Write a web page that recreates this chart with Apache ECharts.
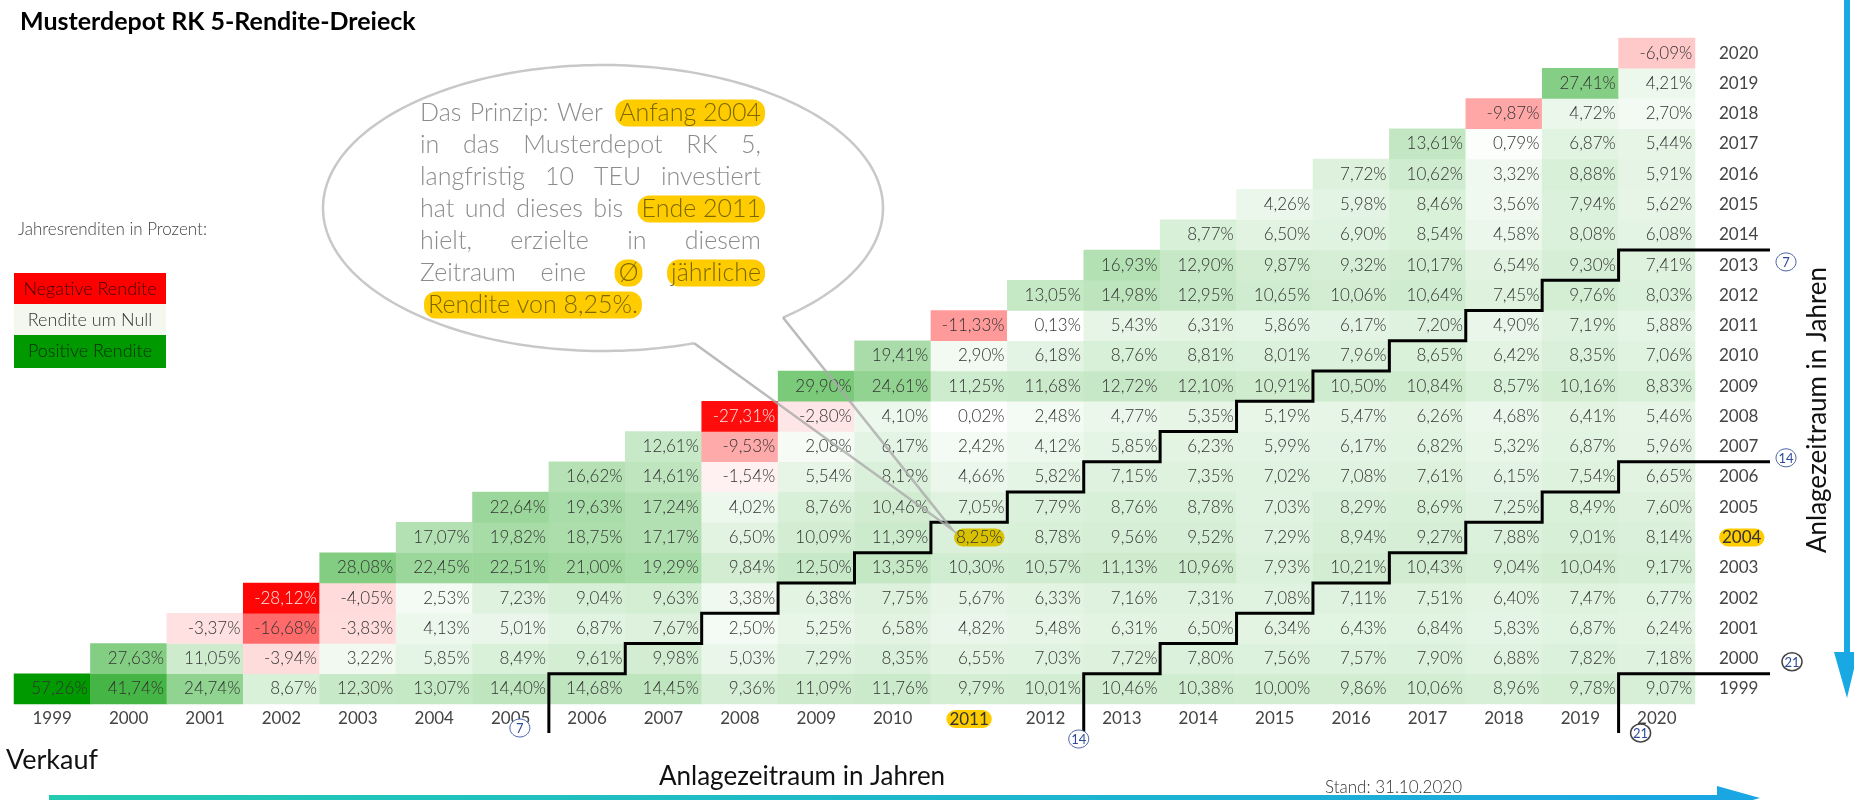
<!DOCTYPE html>
<html>
<head>
<meta charset="utf-8">
<title>Musterdepot RK 5-Rendite-Dreieck</title>
<script src="https://cdn.jsdelivr.net/npm/echarts@6/dist/echarts.min.js"></script>
<style>
  html, body { margin: 0; padding: 0; background: #fff; }
  #chart { width: 1854px; height: 800px; }
</style>
</head>
<body>
<div id="chart"></div>
<script>
const years = ['1999', '2000', '2001', '2002', '2003', '2004', '2005', '2006', '2007', '2008', '2009',
  '2010', '2011', '2012', '2013', '2014', '2015', '2016', '2017', '2018', '2019', '2020']

// eine Zeile je Kaufjahr, erster Wert = Verkauf im selben Jahr
const row1999 = [57.26, 41.74, 24.74, 8.67, 12.30, 13.07, 14.40, 14.68, 14.45, 9.36, 11.09, 11.76, 9.79, 10.01, 10.46, 10.38, 10.00, 9.86, 10.06, 8.96, 9.78, 9.07]
const row2000 = [27.63, 11.05, -3.94, 3.22, 5.85, 8.49, 9.61, 9.98, 5.03, 7.29, 8.35, 6.55, 7.03, 7.72, 7.80, 7.56, 7.57, 7.90, 6.88, 7.82, 7.18]
const row2001 = [-3.37, -16.68, -3.83, 4.13, 5.01, 6.87, 7.67, 2.50, 5.25, 6.58, 4.82, 5.48, 6.31, 6.50, 6.34, 6.43, 6.84, 5.83, 6.87, 6.24]
const row2002 = [-28.12, -4.05, 2.53, 7.23, 9.04, 9.63, 3.38, 6.38, 7.75, 5.67, 6.33, 7.16, 7.31, 7.08, 7.11, 7.51, 6.40, 7.47, 6.77]
const row2003 = [28.08, 22.45, 22.51, 21.00, 19.29, 9.84, 12.50, 13.35, 10.30, 10.57, 11.13, 10.96, 7.93, 10.21, 10.43, 9.04, 10.04, 9.17]
const row2004 = [17.07, 19.82, 18.75, 17.17, 6.50, 10.09, 11.39, 8.25, 8.78, 9.56, 9.52, 7.29, 8.94, 9.27, 7.88, 9.01, 8.14]
const row2005 = [22.64, 19.63, 17.24, 4.02, 8.76, 10.46, 7.05, 7.79, 8.76, 8.78, 7.03, 8.29, 8.69, 7.25, 8.49, 7.60]
const row2006 = [16.62, 14.61, -1.54, 5.54, 8.19, 4.66, 5.82, 7.15, 7.35, 7.02, 7.08, 7.61, 6.15, 7.54, 6.65]
const row2007 = [12.61, -9.53, 2.08, 6.17, 2.42, 4.12, 5.85, 6.23, 5.99, 6.17, 6.82, 5.32, 6.87, 5.96]
const row2008 = [-27.31, -2.80, 4.10, 0.02, 2.48, 4.77, 5.35, 5.19, 5.47, 6.26, 4.68, 6.41, 5.46]
const row2009 = [29.90, 24.61, 11.25, 11.68, 12.72, 12.10, 10.91, 10.50, 10.84, 8.57, 10.16, 8.83]
const row2010 = [19.41, 2.90, 6.18, 8.76, 8.81, 8.01, 7.96, 8.65, 6.42, 8.35, 7.06]
const row2011 = [-11.33, 0.13, 5.43, 6.31, 5.86, 6.17, 7.20, 4.90, 7.19, 5.88]
const row2012 = [13.05, 14.98, 12.95, 10.65, 10.06, 10.64, 7.45, 9.76, 8.03]
const row2013 = [16.93, 12.90, 9.87, 9.32, 10.17, 6.54, 9.30, 7.41]
const row2014 = [8.77, 6.50, 6.90, 8.54, 4.58, 8.08, 6.08]
const row2015 = [4.26, 5.98, 8.46, 3.56, 7.94, 5.62]
const row2016 = [7.72, 10.62, 3.32, 8.88, 5.91]
const row2017 = [13.61, 0.79, 6.87, 5.44]
const row2018 = [-9.87, 4.72, 2.70]
const row2019 = [27.41, 4.21]
const row2020 = [-6.09]

const holdingYears = [7, 14, 21]
const highlightBuy = '2004'
const highlightSell = '2011'

const rows = [row1999, row2000, row2001, row2002, row2003, row2004, row2005, row2006, row2007, row2008, row2009,
  row2010, row2011, row2012, row2013, row2014, row2015, row2016, row2017, row2018, row2019, row2020]

const FONT = 'Lato, "Noto Sans", sans-serif'
const fmt = v => v.toFixed(2).replace('.', ',') + '%'

const cells = []
rows.forEach((row, b) => {
  row.forEach((v, k) => {
    const s = b + k
    const item = { value: [s, b, v] }
    if (v < -20) item.label = { color: '#ffe8e8' }
    if (years[b] === highlightBuy && years[s] === highlightSell) {
      item.label = { backgroundColor: '#d8c200', borderRadius: 9, padding: [1, 2, 0, 2] }
    }
    cells.push(item)
  })
})

// Position der Kreis-Markierungen relativ zu den Linienenden
const badgeBottom = [[-29, -5], [-5, 6], [22, 0]]
const badgeRight = [[16, 12], [16, -4], [22, -12]]

function badge (x, y, text, dark) {
  return [{
    type: 'ellipse',
    shape: { cx: x, cy: y, rx: 10, ry: 9 },
    style: { fill: '#fff', stroke: dark ? '#444' : '#4a64a8', lineWidth: dark ? 1.5 : 1 }
  }, {
    type: 'text',
    style: { x: x, y: y + 1, text: text, fill: '#2b4a9a', font: '13px ' + FONT, align: 'center', verticalAlign: 'middle' }
  }]
}

function renderStair (params, api) {
  const n = api.value(0)
  const idx = params.dataIndex
  const size = api.size([1, 1])
  const w = size[0]
  const h = size[1]
  const last = years.length - 1
  const first = api.coord([n, 0])
  const pts = [[first[0] - w / 2, first[1] + h / 2 + 29]]
  for (let b = 0; b + n <= last; b++) {
    const c = api.coord([b + n, b])
    const x0 = c[0] - w / 2
    const top = c[1] - h / 2
    pts.push([x0, top])
    pts.push([b + n < last ? x0 + w : x0 + w + 75, top])
  }
  const end = pts[pts.length - 1]
  const dark = n === 21
  return {
    type: 'group',
    children: [{
      type: 'polyline',
      shape: { points: pts },
      style: { stroke: '#000', lineWidth: 3, fill: null }
    }].concat(
      badge(pts[0][0] + badgeBottom[idx][0], pts[0][1] + badgeBottom[idx][1], String(n), dark),
      badge(end[0] + badgeRight[idx][0], end[1] + badgeRight[idx][1], String(n), dark)
    )
  }
}

const hlRich = { hl: { backgroundColor: '#ffcc00', borderRadius: 9, padding: [1, 3, 0, 3], fontSize: 17, fontFamily: FONT, color: '#333' } }

const chart = echarts.init(document.getElementById('chart'))

const option = {
  backgroundColor: '#fff',
  animation: false,
  grid: { left: 14, right: 159, top: 38, bottom: 96 },
  xAxis: {
    type: 'category',
    data: years,
    axisLine: { show: false },
    axisTick: { show: false },
    splitLine: { show: false },
    axisLabel: {
      interval: 0,
      margin: 6,
      fontSize: 17,
      fontFamily: FONT,
      color: '#444',
      formatter: v => v === highlightSell ? '{hl|' + v + '}' : v,
      rich: hlRich
    }
  },
  yAxis: {
    type: 'category',
    data: years,
    position: 'right',
    axisLine: { show: false },
    axisTick: { show: false },
    splitLine: { show: false },
    axisLabel: {
      interval: 0,
      margin: 24,
      align: 'left',
      fontSize: 17,
      fontFamily: FONT,
      color: '#444',
      formatter: v => v === highlightBuy ? '{hl|' + v + '}' : v,
      rich: hlRich
    }
  },
  visualMap: {
    show: false,
    dimension: 2,
    seriesIndex: 0,
    min: -28.63,
    max: 57.26,
    inRange: { color: ['#ff0000', '#ffffff', '#80cc80', '#009900'] }
  },
  series: [{
    type: 'heatmap',
    data: cells,
    label: {
      show: true,
      position: 'insideRight',
      distance: 3,
      fontSize: 17,
      fontWeight: 300,
      fontFamily: FONT,
      color: '#333',
      formatter: p => fmt(p.value[2])
    },
    emphasis: { disabled: true }
  }, {
    type: 'custom',
    coordinateSystem: 'cartesian2d',
    clip: false,
    silent: true,
    z: 10,
    data: holdingYears.map(n => [n, 0]),
    renderItem: renderStair
  }]
}

chart.setOption(option)

// Sprechblase mit Blocksatz
const bubbleLines = [
  [['Das'], ['Prinzip:'], ['Wer'], ['Anfang 2004', true]],
  [['in'], ['das'], ['Musterdepot'], ['RK'], ['5,']],
  [['langfristig'], ['10'], ['TEU'], ['investiert']],
  [['hat'], ['und'], ['dieses'], ['bis'], ['Ende 2011', true]],
  [['hielt,'], ['erzielte'], ['in'], ['diesem']],
  [['Zeitraum'], ['eine'], ['Ø', true], ['jährliche', true]],
  [['Rendite von 8,25%.', true]]
]

const bubbleFont = '300 25px ' + FONT
const ctx = document.createElement('canvas').getContext('2d')
ctx.font = bubbleFont
const textLeft = 420
const textRight = 761
const pad = 4

const graphics = []
bubbleLines.forEach((line, i) => {
  const y = 113 + i * 32
  const widths = line.map(t => ctx.measureText(t[0]).width + (t[1] ? pad * 2 : 0))
  const total = widths.reduce((a, b) => a + b, 0)
  const justify = i < bubbleLines.length - 1 && line.length > 1
  const gap = justify ? (textRight - textLeft - total) / (line.length - 1) : ctx.measureText(' ').width
  let x = textLeft
  line.forEach((t, k) => {
    const style = { x: x + (t[1] ? pad : 0), y: y, text: t[0], font: bubbleFont, fill: '#8c8c8c', verticalAlign: 'middle' }
    if (t[1]) {
      Object.assign(style, { fill: '#7d6800', backgroundColor: '#ffcc00', borderRadius: 12, padding: [2, pad, 0, pad] })
    }
    graphics.push({ type: 'text', z: 20, style: style })
    x += widths[k] + gap
  })
})

const cx = 603
const cy = 208
const rx = 280
const ry = 143
const arc = []
for (let a = 71; a <= 410; a += 1.5) {
  const r = a * Math.PI / 180
  arc.push([cx + rx * Math.cos(r), cy + ry * Math.sin(r)])
}
const rootA = [cx + rx * Math.cos(71 * Math.PI / 180), cy + ry * Math.sin(71 * Math.PI / 180)]
const rootB = [cx + rx * Math.cos(50 * Math.PI / 180), cy + ry * Math.sin(50 * Math.PI / 180)]
const cellPos = chart.convertToPixel({ gridIndex: 0 }, [highlightSell, highlightBuy])
const tip = [cellPos[0] - 17, cellPos[1] - 8]

graphics.push(
  { type: 'polyline', z: 15, shape: { points: arc }, style: { stroke: '#c8c8c8', lineWidth: 2.5, fill: null } },
  { type: 'polyline', z: 15, shape: { points: [rootA, tip, rootB] }, style: { stroke: 'rgba(170,170,170,0.8)', lineWidth: 2.5, fill: null } },
  { type: 'text', style: { x: 20, y: 22, text: 'Musterdepot RK 5-Rendite-Dreieck', font: 'bold 25px ' + FONT, fill: '#000', verticalAlign: 'middle' } },
  { type: 'text', style: { x: 18, y: 230, text: 'Jahresrenditen in Prozent:', font: '300 17px ' + FONT, fill: '#444', verticalAlign: 'middle' } },
  { type: 'rect', shape: { x: 14, y: 273, width: 152, height: 31 }, style: { fill: '#ff0000' } },
  { type: 'text', style: { x: 90, y: 289, text: 'Negative Rendite', font: '300 18px ' + FONT, fill: '#3a0808', align: 'center', verticalAlign: 'middle' } },
  { type: 'rect', shape: { x: 14, y: 304, width: 152, height: 31 }, style: { fill: '#f4f7ee' } },
  { type: 'text', style: { x: 90, y: 320, text: 'Rendite um Null', font: '300 18px ' + FONT, fill: '#333', align: 'center', verticalAlign: 'middle' } },
  { type: 'rect', shape: { x: 14, y: 335, width: 152, height: 33 }, style: { fill: '#009900' } },
  { type: 'text', style: { x: 90, y: 351, text: 'Positive Rendite', font: '300 18px ' + FONT, fill: '#0a2a0a', align: 'center', verticalAlign: 'middle' } },
  { type: 'text', style: { x: 6, y: 760, text: 'Verkauf', font: '27px ' + FONT, fill: '#111', verticalAlign: 'middle' } },
  { type: 'text', style: { x: 659, y: 777, text: 'Anlagezeitraum in Jahren', font: '26px ' + FONT, fill: '#111', verticalAlign: 'middle' } },
  { type: 'text', style: { x: 1325, y: 788, text: 'Stand: 31.10.2020', font: '300 17px ' + FONT, fill: '#333', verticalAlign: 'middle' } },
  {
    type: 'rect',
    shape: { x: 49, y: 795, width: 1672, height: 5 },
    style: { fill: { type: 'linear', x: 0, y: 0, x2: 1, y2: 0, colorStops: [{ offset: 0, color: '#22cbb0' }, { offset: 1, color: '#19a6e3' }] } }
  },
  { type: 'polygon', shape: { points: [[1717, 786], [1760, 798], [1717, 810]] }, style: { fill: '#19a6e3' } },
  { type: 'rect', shape: { x: 1844, y: 0, width: 6, height: 660 }, style: { fill: '#18a9e4' } },
  { type: 'polygon', shape: { points: [[1834, 652], [1858, 652], [1847, 698]] }, style: { fill: '#18a9e4' } },
  {
    type: 'text',
    x: 1818,
    y: 410,
    rotation: Math.PI / 2,
    style: { x: 0, y: 0, text: 'Anlagezeitraum in Jahren', font: '26px ' + FONT, fill: '#111', align: 'center', verticalAlign: 'middle' }
  }
)

chart.setOption({ graphic: graphics })
</script>
</body>
</html>
